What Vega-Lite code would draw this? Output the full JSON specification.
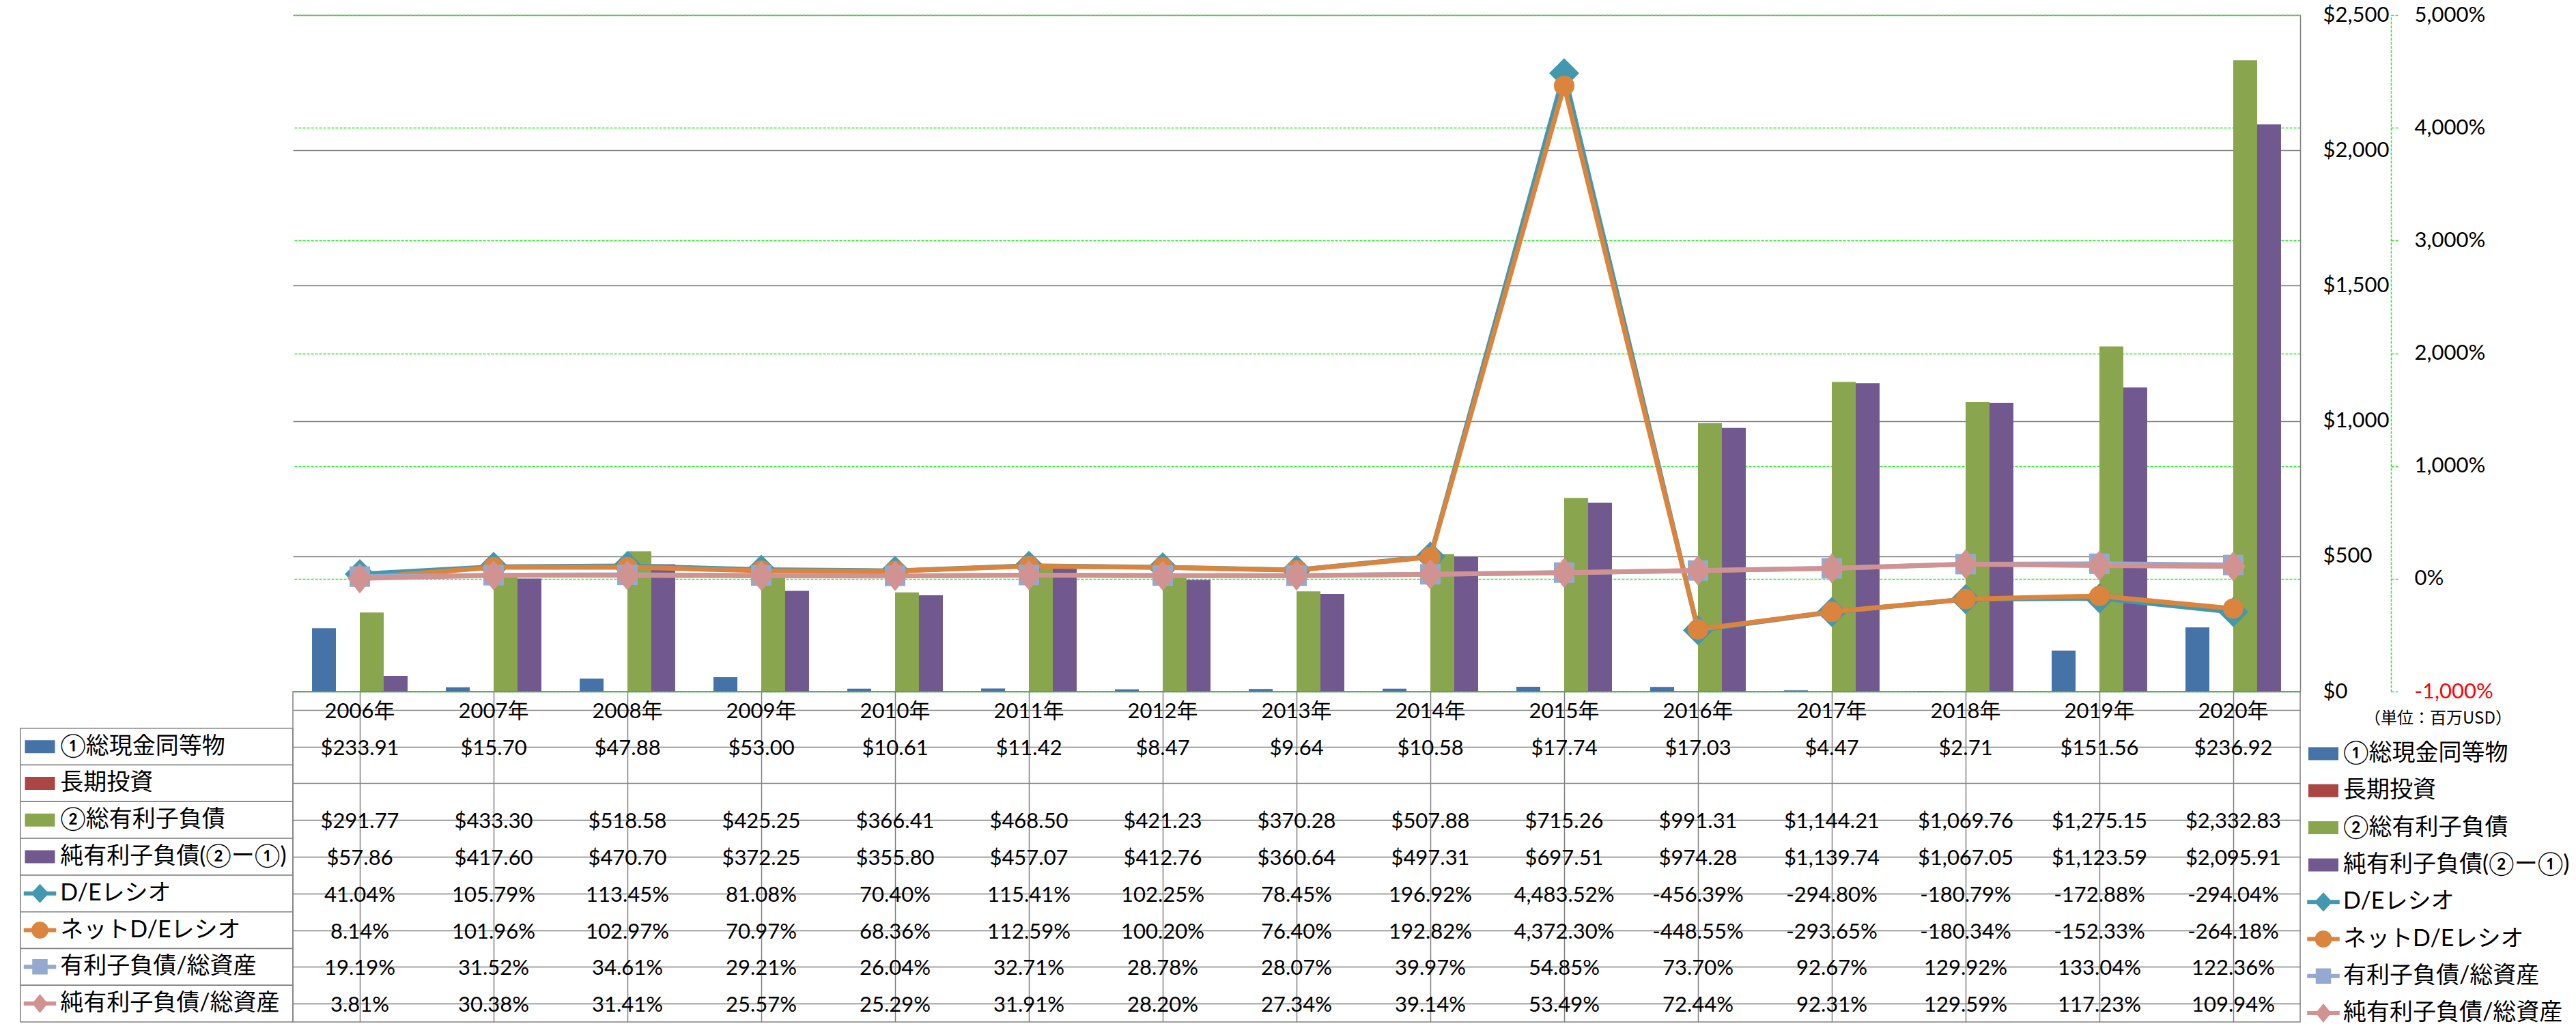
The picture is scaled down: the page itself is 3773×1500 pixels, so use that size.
{
"$schema": "https://vega.github.io/schema/vega-lite/v6.json",
"padding": {"left": 29, "top": 6, "right": 0, "bottom": 0},
"background": "white",
"config": {
 "font": "Lato, Noto Sans CJK JP",
 "view": {"stroke": null},
 "locale": {"number": {"decimal": ".", "thousands": ",", "grouping": [3], "currency": ["$", ""], "minus": "-"}}
},
"datasets": {
 "s": [{"s": "①総現金同等物"}, {"s": "長期投資"}, {"s": "②総有利子負債"}, {"s": "純有利子負債(②ー①)"}, {"s": "D/Eレシオ"}, {"s": "ネットD/Eレシオ"}, {"s": "有利子負債/総資産"}, {"s": "純有利子負債/総資産"}],
 "d": [
  {"yr": "2006年", "s": "①総現金同等物", "v": 233.91}, {"yr": "2007年", "s": "①総現金同等物", "v": 15.70}, {"yr": "2008年", "s": "①総現金同等物", "v": 47.88}, {"yr": "2009年", "s": "①総現金同等物", "v": 53.00}, {"yr": "2010年", "s": "①総現金同等物", "v": 10.61}, {"yr": "2011年", "s": "①総現金同等物", "v": 11.42}, {"yr": "2012年", "s": "①総現金同等物", "v": 8.47}, {"yr": "2013年", "s": "①総現金同等物", "v": 9.64}, {"yr": "2014年", "s": "①総現金同等物", "v": 10.58}, {"yr": "2015年", "s": "①総現金同等物", "v": 17.74}, {"yr": "2016年", "s": "①総現金同等物", "v": 17.03}, {"yr": "2017年", "s": "①総現金同等物", "v": 4.47}, {"yr": "2018年", "s": "①総現金同等物", "v": 2.71}, {"yr": "2019年", "s": "①総現金同等物", "v": 151.56}, {"yr": "2020年", "s": "①総現金同等物", "v": 236.92},
  {"yr": "2006年", "s": "②総有利子負債", "v": 291.77}, {"yr": "2007年", "s": "②総有利子負債", "v": 433.30}, {"yr": "2008年", "s": "②総有利子負債", "v": 518.58}, {"yr": "2009年", "s": "②総有利子負債", "v": 425.25}, {"yr": "2010年", "s": "②総有利子負債", "v": 366.41}, {"yr": "2011年", "s": "②総有利子負債", "v": 468.50}, {"yr": "2012年", "s": "②総有利子負債", "v": 421.23}, {"yr": "2013年", "s": "②総有利子負債", "v": 370.28}, {"yr": "2014年", "s": "②総有利子負債", "v": 507.88}, {"yr": "2015年", "s": "②総有利子負債", "v": 715.26}, {"yr": "2016年", "s": "②総有利子負債", "v": 991.31}, {"yr": "2017年", "s": "②総有利子負債", "v": 1144.21}, {"yr": "2018年", "s": "②総有利子負債", "v": 1069.76}, {"yr": "2019年", "s": "②総有利子負債", "v": 1275.15}, {"yr": "2020年", "s": "②総有利子負債", "v": 2332.83},
  {"yr": "2006年", "s": "純有利子負債(②ー①)", "v": 57.86}, {"yr": "2007年", "s": "純有利子負債(②ー①)", "v": 417.60}, {"yr": "2008年", "s": "純有利子負債(②ー①)", "v": 470.70}, {"yr": "2009年", "s": "純有利子負債(②ー①)", "v": 372.25}, {"yr": "2010年", "s": "純有利子負債(②ー①)", "v": 355.80}, {"yr": "2011年", "s": "純有利子負債(②ー①)", "v": 457.07}, {"yr": "2012年", "s": "純有利子負債(②ー①)", "v": 412.76}, {"yr": "2013年", "s": "純有利子負債(②ー①)", "v": 360.64}, {"yr": "2014年", "s": "純有利子負債(②ー①)", "v": 497.31}, {"yr": "2015年", "s": "純有利子負債(②ー①)", "v": 697.51}, {"yr": "2016年", "s": "純有利子負債(②ー①)", "v": 974.28}, {"yr": "2017年", "s": "純有利子負債(②ー①)", "v": 1139.74}, {"yr": "2018年", "s": "純有利子負債(②ー①)", "v": 1067.05}, {"yr": "2019年", "s": "純有利子負債(②ー①)", "v": 1123.59}, {"yr": "2020年", "s": "純有利子負債(②ー①)", "v": 2095.91},
  {"yr": "2006年", "s": "D/Eレシオ", "v": 0.4104}, {"yr": "2007年", "s": "D/Eレシオ", "v": 1.0579}, {"yr": "2008年", "s": "D/Eレシオ", "v": 1.1345}, {"yr": "2009年", "s": "D/Eレシオ", "v": 0.8108}, {"yr": "2010年", "s": "D/Eレシオ", "v": 0.7040}, {"yr": "2011年", "s": "D/Eレシオ", "v": 1.1541}, {"yr": "2012年", "s": "D/Eレシオ", "v": 1.0225}, {"yr": "2013年", "s": "D/Eレシオ", "v": 0.7845}, {"yr": "2014年", "s": "D/Eレシオ", "v": 1.9692}, {"yr": "2015年", "s": "D/Eレシオ", "v": 44.8352}, {"yr": "2016年", "s": "D/Eレシオ", "v": -4.5639}, {"yr": "2017年", "s": "D/Eレシオ", "v": -2.9480}, {"yr": "2018年", "s": "D/Eレシオ", "v": -1.8079}, {"yr": "2019年", "s": "D/Eレシオ", "v": -1.7288}, {"yr": "2020年", "s": "D/Eレシオ", "v": -2.9404},
  {"yr": "2006年", "s": "ネットD/Eレシオ", "v": 0.0814}, {"yr": "2007年", "s": "ネットD/Eレシオ", "v": 1.0196}, {"yr": "2008年", "s": "ネットD/Eレシオ", "v": 1.0297}, {"yr": "2009年", "s": "ネットD/Eレシオ", "v": 0.7097}, {"yr": "2010年", "s": "ネットD/Eレシオ", "v": 0.6836}, {"yr": "2011年", "s": "ネットD/Eレシオ", "v": 1.1259}, {"yr": "2012年", "s": "ネットD/Eレシオ", "v": 1.0020}, {"yr": "2013年", "s": "ネットD/Eレシオ", "v": 0.7640}, {"yr": "2014年", "s": "ネットD/Eレシオ", "v": 1.9282}, {"yr": "2015年", "s": "ネットD/Eレシオ", "v": 43.7230}, {"yr": "2016年", "s": "ネットD/Eレシオ", "v": -4.4855}, {"yr": "2017年", "s": "ネットD/Eレシオ", "v": -2.9365}, {"yr": "2018年", "s": "ネットD/Eレシオ", "v": -1.8034}, {"yr": "2019年", "s": "ネットD/Eレシオ", "v": -1.5233}, {"yr": "2020年", "s": "ネットD/Eレシオ", "v": -2.6418},
  {"yr": "2006年", "s": "有利子負債/総資産", "v": 0.1919}, {"yr": "2007年", "s": "有利子負債/総資産", "v": 0.3152}, {"yr": "2008年", "s": "有利子負債/総資産", "v": 0.3461}, {"yr": "2009年", "s": "有利子負債/総資産", "v": 0.2921}, {"yr": "2010年", "s": "有利子負債/総資産", "v": 0.2604}, {"yr": "2011年", "s": "有利子負債/総資産", "v": 0.3271}, {"yr": "2012年", "s": "有利子負債/総資産", "v": 0.2878}, {"yr": "2013年", "s": "有利子負債/総資産", "v": 0.2807}, {"yr": "2014年", "s": "有利子負債/総資産", "v": 0.3997}, {"yr": "2015年", "s": "有利子負債/総資産", "v": 0.5485}, {"yr": "2016年", "s": "有利子負債/総資産", "v": 0.7370}, {"yr": "2017年", "s": "有利子負債/総資産", "v": 0.9267}, {"yr": "2018年", "s": "有利子負債/総資産", "v": 1.2992}, {"yr": "2019年", "s": "有利子負債/総資産", "v": 1.3304}, {"yr": "2020年", "s": "有利子負債/総資産", "v": 1.2236},
  {"yr": "2006年", "s": "純有利子負債/総資産", "v": 0.0381}, {"yr": "2007年", "s": "純有利子負債/総資産", "v": 0.3038}, {"yr": "2008年", "s": "純有利子負債/総資産", "v": 0.3141}, {"yr": "2009年", "s": "純有利子負債/総資産", "v": 0.2557}, {"yr": "2010年", "s": "純有利子負債/総資産", "v": 0.2529}, {"yr": "2011年", "s": "純有利子負債/総資産", "v": 0.3191}, {"yr": "2012年", "s": "純有利子負債/総資産", "v": 0.2820}, {"yr": "2013年", "s": "純有利子負債/総資産", "v": 0.2734}, {"yr": "2014年", "s": "純有利子負債/総資産", "v": 0.3914}, {"yr": "2015年", "s": "純有利子負債/総資産", "v": 0.5349}, {"yr": "2016年", "s": "純有利子負債/総資産", "v": 0.7244}, {"yr": "2017年", "s": "純有利子負債/総資産", "v": 0.9231}, {"yr": "2018年", "s": "純有利子負債/総資産", "v": 1.2959}, {"yr": "2019年", "s": "純有利子負債/総資産", "v": 1.1723}, {"yr": "2020年", "s": "純有利子負債/総資産", "v": 1.0994}
 ]
},
"columns": 2,
"spacing": 0,
"bounds": "flush",
"resolve": {
 "scale": {"x": "independent", "y": "independent", "color": "independent", "fill": "independent", "shape": "independent", "xOffset": "independent"},
 "legend": {"color": "independent", "fill": "independent", "shape": "independent"}
},
"concat": [
 {
  "width": 399, "height": 991,
  "data": {"values": []},
  "mark": {"type": "point", "opacity": 0},
  "encoding": {}
 },
 {
  "width": 2940, "height": 991,
  "data": {"name": "d"},
  "encoding": {
   "x": {"field": "yr", "type": "nominal", "sort": null,
    "scale": {"domain": ["2006年","2007年","2008年","2009年","2010年","2011年","2012年","2013年","2014年","2015年","2016年","2017年","2018年","2019年","2020年"], "paddingInner": 0.286, "paddingOuter": 0.143},
    "axis": null},
   "color": {"field": "s", "type": "nominal",
    "scale": {"domain": ["①総現金同等物","長期投資","②総有利子負債","純有利子負債(②ー①)","D/Eレシオ","ネットD/Eレシオ","有利子負債/総資産","純有利子負債/総資産"],
     "range": ["#4572A7","#AA4643","#89A54E","#71588F","#4198AF","#DB843D","#93A9CF","#D19392"]},
    "legend": null}
  },
  "layer": [
   {
    "transform": [{"filter": {"field": "s", "oneOf": ["①総現金同等物","長期投資","②総有利子負債","純有利子負債(②ー①)"]}}],
    "mark": {"type": "bar"},
    "encoding": {
     "xOffset": {"field": "s", "type": "nominal", "scale": {"domain": ["①総現金同等物","長期投資","②総有利子負債","純有利子負債(②ー①)"], "paddingInner": 0, "paddingOuter": 0}},
     "y": {"field": "v", "type": "quantitative", "scale": {"domain": [0, 2500], "nice": false},
      "axis": {"orient": "right", "values": [0,500,1000,1500,2000,2500], "format": "$,.0f", "title": null,
       "grid": true, "gridColor": "#808080", "gridWidth": 1.5,
       "domain": true, "domainColor": "#808080", "domainWidth": 1.5, "ticks": false,
       "labelPadding": 33, "labelFontSize": 31, "labelFont": "Lato", "labelColor": "black"}}
    }
   },
   {
    "encoding": {
     "y": {"field": "v", "type": "quantitative", "scale": {"domain": [-10, 50], "nice": false, "zero": false},
      "axis": {"orient": "right", "offset": 133, "values": [-10,0,10,20,30,40,50], "format": ",.0%", "title": null,
       "grid": true, "gridColor": "#22EE22", "gridDash": [4, 2], "gridWidth": 1.5,
       "domain": true, "domainColor": "#22EE22", "domainDash": [4, 2], "domainWidth": 1.5,
       "ticks": true, "tickColor": "#22EE22", "tickDash": [4, 2], "tickSize": 12, "tickWidth": 1.5,
       "labelPadding": 22, "labelFontSize": 31, "labelFont": "Lato",
       "labelColor": {"condition": {"test": "datum.value < 0", "value": "red"}, "value": "black"}}}
    },
    "layer": [
     {"transform": [{"filter": {"field": "s", "equal": "D/Eレシオ"}}],
      "mark": {"type": "line", "strokeWidth": 7, "strokeJoin": "round", "strokeCap": "round"}},
     {"transform": [{"filter": {"field": "s", "equal": "D/Eレシオ"}}],
      "mark": {"type": "point", "filled": true, "opacity": 1, "shape": "diamond", "size": 1936}},
     {"transform": [{"filter": {"field": "s", "equal": "ネットD/Eレシオ"}}],
      "mark": {"type": "line", "strokeWidth": 7, "strokeJoin": "round", "strokeCap": "round"}},
     {"transform": [{"filter": {"field": "s", "equal": "ネットD/Eレシオ"}}],
      "mark": {"type": "point", "filled": true, "opacity": 1, "shape": "circle", "size": 900}},
     {"transform": [{"filter": {"field": "s", "equal": "有利子負債/総資産"}}],
      "mark": {"type": "line", "strokeWidth": 7, "strokeJoin": "round", "strokeCap": "round"}},
     {"transform": [{"filter": {"field": "s", "equal": "有利子負債/総資産"}}],
      "mark": {"type": "point", "filled": true, "opacity": 1, "shape": "square", "size": 900}},
     {"transform": [{"filter": {"field": "s", "equal": "純有利子負債/総資産"}}],
      "mark": {"type": "line", "strokeWidth": 7, "strokeJoin": "round", "strokeCap": "round"}},
     {"transform": [{"filter": {"field": "s", "equal": "純有利子負債/総資産"}}],
      "mark": {"type": "point", "filled": true, "opacity": 1, "shape": "M0,-1L0.82,0L0,1L-0.82,0Z", "size": 1936}}
    ]
   }
  ],
  "resolve": {"scale": {"y": "independent"}}
 },
 {
  "width": 399, "height": 484,
  "data": {"name": "s"},
  "encoding": {
   "y": {"field": "s", "type": "nominal", "sort": null,
    "scale": {"domain": ["hdr","①総現金同等物","長期投資","②総有利子負債","純有利子負債(②ー①)","D/Eレシオ","ネットD/Eレシオ","有利子負債/総資産","純有利子負債/総資産"], "paddingInner": 0, "paddingOuter": 0},
    "axis": null}
  },
  "layer": [
   {
    "mark": {"type": "rect", "fill": "white", "stroke": "#808080", "strokeWidth": 1.5},
    "encoding": {
     "x": {"datum": 0, "type": "quantitative", "scale": {"domain": [0, 7], "nice": false, "zero": false}, "axis": null},
     "x2": {"datum": 7}
    }
   },
   {
    "mark": {"type": "point", "filled": true, "opacity": 1, "size": 2500},
    "encoding": {
     "x": {"datum": 0.5, "type": "quantitative"},
     "fill": {"field": "s", "type": "nominal",
      "scale": {"domain": ["①総現金同等物","長期投資","②総有利子負債","純有利子負債(②ー①)","D/Eレシオ","ネットD/Eレシオ","有利子負債/総資産","純有利子負債/総資産"],
       "range": ["#4572A7","#AA4643","#89A54E","#71588F","#4198AF","#DB843D","#93A9CF","#D19392"]},
      "legend": {"orient": "none", "legendX": 3348, "legendY": 28, "direction": "vertical", "title": "（単位：百万USD）", "titleFontSize": 24, "titleFont": "Noto Sans CJK JP", "titleFontWeight": "normal", "titleColor": "black", "titleAnchor": "middle", "titleAlign": "center", "titlePadding": 14, "titleLimit": 800, "labelFontSize": 34, "labelFont": "Lato, Noto Sans CJK JP", "labelColor": "black", "labelLimit": 600, "symbolSize": 2500, "symbolStrokeWidth": 0, "rowPadding": 12.3, "labelOffset": 4, "padding": 0}},
     "shape": {"field": "s", "type": "nominal",
      "scale": {"domain": ["①総現金同等物","長期投資","②総有利子負債","純有利子負債(②ー①)","D/Eレシオ","ネットD/Eレシオ","有利子負債/総資産","純有利子負債/総資産"],
       "range": [
        "M-0.88,-0.38L0.88,-0.38L0.88,0.38L-0.88,0.38Z",
        "M-0.88,-0.38L0.88,-0.38L0.88,0.38L-0.88,0.38Z",
        "M-0.88,-0.38L0.88,-0.38L0.88,0.38L-0.88,0.38Z",
        "M-0.88,-0.38L0.88,-0.38L0.88,0.38L-0.88,0.38Z",
        "M-0.95,-0.12L-0.41,-0.12L0,-0.56L0.41,-0.12L0.95,-0.12L0.95,0.12L0.41,0.12L0,0.56L-0.41,0.12L-0.95,0.12Z",
        "M-0.95,-0.12L-0.485,-0.12A0.5,0.5 0 0 1 0.485,-0.12L0.95,-0.12L0.95,0.12L0.485,0.12A0.5,0.5 0 0 1 -0.485,0.12L-0.95,0.12Z",
        "M-0.95,-0.12L-0.45,-0.12L-0.45,-0.45L0.45,-0.45L0.45,-0.12L0.95,-0.12L0.95,0.12L0.45,0.12L0.45,0.45L-0.45,0.45L-0.45,0.12L-0.95,0.12Z",
        "M-0.95,-0.12L-0.36,-0.12L0,-0.56L0.36,-0.12L0.95,-0.12L0.95,0.12L0.36,0.12L0,0.56L-0.36,0.12L-0.95,0.12Z"
       ]},
      "legend": {"orient": "none", "legendX": 3348, "legendY": 28, "direction": "vertical", "title": "（単位：百万USD）", "titleFontSize": 24, "titleFont": "Noto Sans CJK JP", "titleFontWeight": "normal", "titleColor": "black", "titleAnchor": "middle", "titleAlign": "center", "titlePadding": 14, "titleLimit": 800, "labelFontSize": 34, "labelFont": "Lato, Noto Sans CJK JP", "labelColor": "black", "labelLimit": 600, "symbolSize": 2500, "symbolStrokeWidth": 0, "rowPadding": 12.3, "labelOffset": 4, "padding": 0}}
    }
   },
   {
    "mark": {"type": "text", "align": "left", "baseline": "middle", "fontSize": 34, "font": "Lato, Noto Sans CJK JP", "color": "black"},
    "encoding": {
     "x": {"datum": 1.02, "type": "quantitative"},
     "text": {"field": "s"}
    }
   }
  ]
 },
 {
  "width": 2940, "height": 484,
  "view": {"stroke": "#808080", "strokeWidth": 1.5},
  "data": {"name": "d"},
  "encoding": {
   "x": {"field": "yr", "type": "nominal", "sort": null,
    "scale": {"domain": ["2006年","2007年","2008年","2009年","2010年","2011年","2012年","2013年","2014年","2015年","2016年","2017年","2018年","2019年","2020年"], "paddingInner": 0, "paddingOuter": 0},
    "axis": {"orient": "top", "grid": true, "gridColor": "#808080", "gridWidth": 1.5, "bandPosition": 0, "labels": false, "ticks": false, "domain": false, "title": null}}
  },
  "layer": [
   {
    "transform": [{"filter": {"field": "s", "equal": "①総現金同等物"}}],
    "mark": {"type": "text", "align": "center", "baseline": "middle", "fontSize": 31, "font": "Lato, Noto Sans CJK JP", "color": "black", "dy": 3},
    "encoding": {
     "y": {"datum": "hdr", "type": "nominal",
      "scale": {"domain": ["hdr","①総現金同等物","長期投資","②総有利子負債","純有利子負債(②ー①)","D/Eレシオ","ネットD/Eレシオ","有利子負債/総資産","純有利子負債/総資産"], "paddingInner": 0, "paddingOuter": 0},
      "axis": {"grid": true, "gridColor": "#808080", "gridWidth": 1.5, "bandPosition": 0, "labels": false, "ticks": false, "domain": false, "title": null}},
     "text": {"field": "yr"}
    }
   },
   {
    "transform": [{"filter": {"field": "s", "oneOf": ["①総現金同等物","長期投資","②総有利子負債","純有利子負債(②ー①)"]}}],
    "mark": {"type": "text", "align": "center", "baseline": "middle", "fontSize": 31, "font": "Lato", "color": "black", "dy": 3},
    "encoding": {
     "y": {"field": "s", "type": "nominal"},
     "text": {"field": "v", "type": "quantitative", "format": "$,.2f"}
    }
   },
   {
    "transform": [{"filter": {"field": "s", "oneOf": ["D/Eレシオ","ネットD/Eレシオ","有利子負債/総資産","純有利子負債/総資産"]}}],
    "mark": {"type": "text", "align": "center", "baseline": "middle", "fontSize": 31, "font": "Lato", "color": "black", "dy": 3},
    "encoding": {
     "y": {"field": "s", "type": "nominal"},
     "text": {"field": "v", "type": "quantitative", "format": ",.2%"}
    }
   }
  ]
 }
]
}
